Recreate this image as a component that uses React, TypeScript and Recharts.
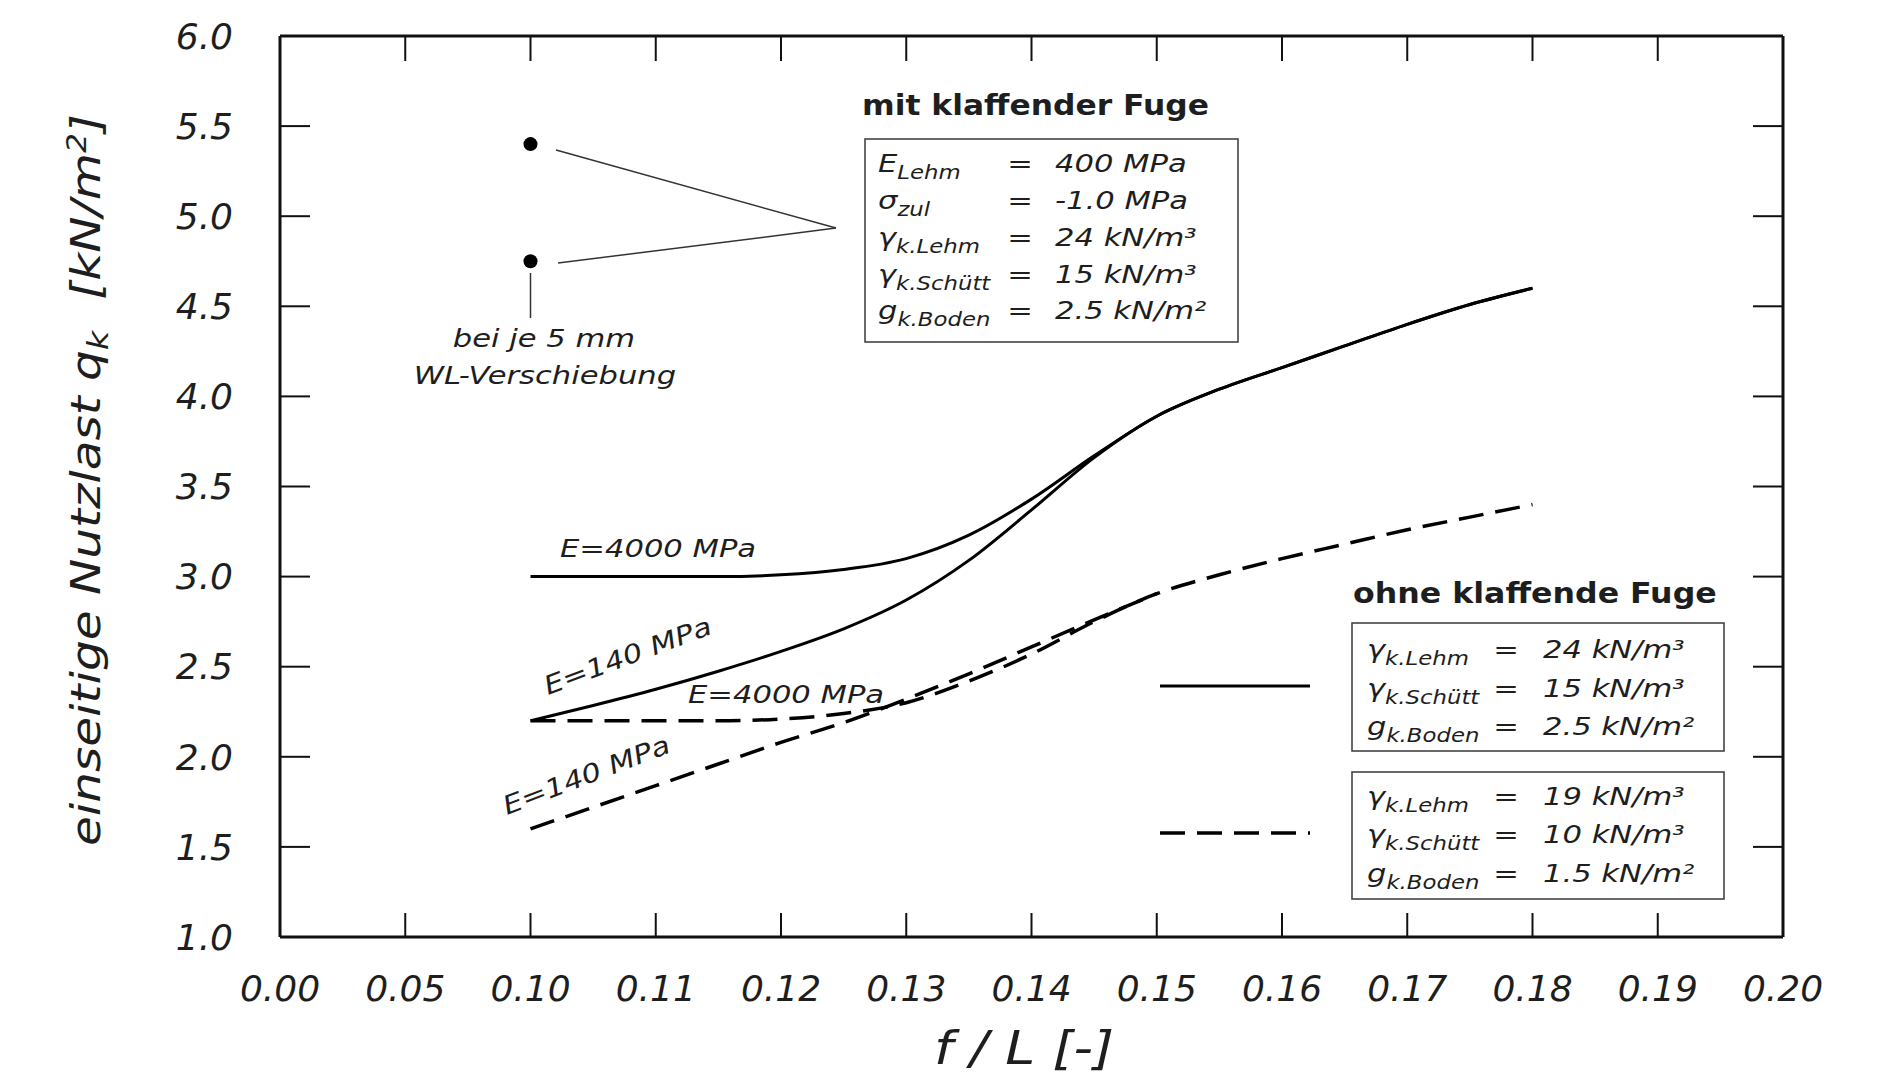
import React from "react";
import { ComposedChart, Line, Scatter, XAxis, YAxis, ReferenceLine } from "recharts";

// axis: equally spaced ticks, the labels are not linear
const xTickLabels = ["0.00", "0.05", "0.10", "0.11", "0.12", "0.13", "0.14", "0.15", "0.16", "0.17", "0.18", "0.19", "0.20"];
const yTicks = [1, 1.5, 2, 2.5, 3, 3.5, 4, 4.5, 5, 5.5, 6];

// f/L values of the curves
const fL = [0.1, 0.105, 0.11, 0.115, 0.12, 0.125, 0.13, 0.135, 0.14, 0.145, 0.15, 0.155, 0.16, 0.165, 0.17, 0.175, 0.18];

// mit klaffender Fuge (solid)
const mitE4000 = [3.0, 3.0, 3.0, 3.0, 3.01, 3.04, 3.1, 3.23, 3.43, 3.67, 3.89, 4.04, 4.16, 4.28, 4.4, 4.51, 4.6];
const mitE140 = [2.2, 2.285, 2.375, 2.475, 2.585, 2.71, 2.87, 3.09, 3.37, 3.66, 3.89, 4.04, 4.16, 4.28, 4.4, 4.51, 4.6];

// ohne klaffende Fuge (dashed); E=140 runs into E=4000 at f/L = 0.15
const ohneE4000 = [2.2, 2.2, 2.2, 2.2, 2.21, 2.24, 2.3, 2.42, 2.57, 2.75, 2.905, 3.01, 3.1, 3.18, 3.26, 3.33, 3.4];
const ohneE140 = [1.6, 1.72, 1.84, 1.96, 2.08, 2.19, 2.32, 2.46, 2.61, 2.76, 2.905];

// WL-Verschiebung points at f/L = 0.10
const markerF = [0.1, 0.1];
const markerQ = [5.4, 4.75];

// f/L -> position on the tick index axis (0.10 sits on tick 2, 0.01 per tick)
const pos = (f: number) => 2 + (f - 0.1) * 100;

const toPoints = (vals: number[]) => vals.map((q, i) => ({ x: pos(fL[i]), q }));
const markers = markerF.map((f, i) => ({ x: pos(f), q: markerQ[i] }));
const tickIdx = xTickLabels.map((_, i) => i);

const FONT = "'DejaVu Sans', Verdana, sans-serif";
const NARROW = "'Liberation Sans Narrow', 'DejaVu Sans Condensed', 'Liberation Sans', sans-serif";
const INK = "#1e1e1e";
const DASH = "25 12";

const tickStyle = { fontSize: 36, fontStyle: "italic", fill: INK, fontFamily: FONT };
const axisLine = { stroke: "#111", strokeWidth: 3 };
const tickLine = { stroke: "#111", strokeWidth: 2 };

function T(props: {
  x: number;
  y: number;
  sx?: number;
  rot?: number;
  size?: number;
  anchor?: "start" | "middle" | "end";
  bold?: boolean;
  italic?: boolean;
  children: React.ReactNode;
}) {
  const { x, y, sx = 1.2, rot = 0, size = 25.5, anchor = "start", bold, italic = true, children } = props;
  return (
    <g transform={`translate(${x},${y}) rotate(${rot}) scale(${sx},1)`}>
      <text
        x={0}
        y={0}
        fontSize={size}
        textAnchor={anchor}
        fontFamily={FONT}
        fontStyle={italic ? "italic" : "normal"}
        fontWeight={bold ? "bold" : "normal"}
        fill={INK}
      >
        {children}
      </text>
    </g>
  );
}

function Sym({ x, y, main, sub }: { x: number; y: number; main: string; sub: string }) {
  return (
    <T x={x} y={y}>
      {main}
      <tspan dy={7} fontSize={19}>
        {sub}
      </tspan>
    </T>
  );
}

function Row({ y, sx, ex, vx, main, sub, val }: { y: number; sx: number; ex: number; vx: number; main: string; sub: string; val: string }) {
  return (
    <g>
      <Sym x={sx} y={y} main={main} sub={sub} />
      <T x={ex} y={y} anchor="middle" italic={false}>
        =
      </T>
      <T x={vx} y={y}>
        {val}
      </T>
    </g>
  );
}

function Overlay() {
  return (
    <svg width={1881} height={1079} style={{ position: "absolute", left: 0, top: 0, pointerEvents: "none" }}>
      {/* axis titles */}
      <text
        transform="translate(100,480) rotate(-90)"
        textAnchor="middle"
        fontSize={40}
        fontStyle="italic"
        fontFamily={NARROW}
        fill={INK}
        textLength={732}
        lengthAdjust="spacingAndGlyphs"
      >
        einseitige Nutzlast q<tspan dy={8} fontSize={28}>k</tspan>
        <tspan dy={-8}>{"\u00a0\u00a0[kN/m"}</tspan>
        <tspan dy={-14} fontSize={26}>2</tspan>
        <tspan dy={14}>]</tspan>
      </text>
      <text
        x={934}
        y={1064}
        fontSize={46}
        fontStyle="italic"
        fontFamily={NARROW}
        fill={INK}
        textLength={180}
        lengthAdjust="spacingAndGlyphs"
      >
        f / L [-]
      </text>

      {/* curve labels */}
      <T x={560} y={557}>E=4000 MPa</T>
      <T x={548} y={695} rot={-20.5}>E=140 MPa</T>
      <T x={688} y={703}>E=4000 MPa</T>
      <T x={507} y={815} rot={-21}>E=140 MPa</T>

      {/* marker note */}
      <T x={544} y={347} anchor="middle">bei je 5 mm</T>
      <T x={545} y={384} anchor="middle">WL-Verschiebung</T>

      {/* mit klaffender Fuge */}
      <T x={862} y={115} bold italic={false} size={28} sx={1.12}>mit klaffender Fuge</T>
      <rect x={865} y={139} width={373} height={203} fill="none" stroke="#444" strokeWidth={1.6} />
      <Row y={172} sx={878} ex={1020} vx={1055} main="E" sub="Lehm" val="400 MPa" />
      <Row y={209} sx={878} ex={1020} vx={1055} main="σ" sub="zul" val="-1.0 MPa" />
      <Row y={246} sx={878} ex={1020} vx={1055} main="γ" sub="k.Lehm" val="24 kN/m³" />
      <Row y={283} sx={878} ex={1020} vx={1055} main="γ" sub="k.Schütt" val="15 kN/m³" />
      <Row y={319} sx={878} ex={1020} vx={1055} main="g" sub="k.Boden" val="2.5 kN/m²" />

      {/* ohne klaffende Fuge */}
      <T x={1353} y={603} bold italic={false} size={28} sx={1.13}>ohne klaffende Fuge</T>
      <rect x={1352} y={623} width={372} height={128} fill="none" stroke="#444" strokeWidth={1.6} />
      <Row y={658} sx={1367} ex={1506} vx={1543} main="γ" sub="k.Lehm" val="24 kN/m³" />
      <Row y={697} sx={1367} ex={1506} vx={1543} main="γ" sub="k.Schütt" val="15 kN/m³" />
      <Row y={735} sx={1367} ex={1506} vx={1543} main="g" sub="k.Boden" val="2.5 kN/m²" />
      <rect x={1352} y={772} width={372} height={127} fill="none" stroke="#444" strokeWidth={1.6} />
      <Row y={805} sx={1367} ex={1506} vx={1543} main="γ" sub="k.Lehm" val="19 kN/m³" />
      <Row y={843} sx={1367} ex={1506} vx={1543} main="γ" sub="k.Schütt" val="10 kN/m³" />
      <Row y={882} sx={1367} ex={1506} vx={1543} main="g" sub="k.Boden" val="1.5 kN/m²" />

      {/* legend samples */}
      <line x1={1160} x2={1310} y1={686} y2={686} stroke="#000" strokeWidth={3} />
      <line x1={1160} x2={1310} y1={833} y2={833} stroke="#000" strokeWidth={3.5} strokeDasharray={DASH} />
    </svg>
  );
}

export default function App() {
  return (
    <div style={{ position: "absolute", left: 0, top: 0, width: 1881, height: 1079, background: "#fff" }}>
      <ComposedChart width={1881} height={1079} margin={{ top: 35, right: 97, bottom: 82, left: 180 }}>
        <XAxis
          xAxisId="b"
          type="number"
          dataKey="x"
          domain={[0, 12]}
          ticks={tickIdx}
          interval={0}
          tickFormatter={(v: number) => xTickLabels[v]}
          height={60}
          tickSize={-24}
          tickMargin={62}
          axisLine={axisLine}
          tickLine={tickLine}
          tick={tickStyle}
          allowDataOverflow
        />
        <XAxis
          xAxisId="t"
          orientation="top"
          type="number"
          dataKey="x"
          domain={[0, 12]}
          ticks={tickIdx}
          interval={0}
          tickFormatter={() => ""}
          height={1}
          tickSize={-25}
          axisLine={axisLine}
          tickLine={tickLine}
          allowDataOverflow
        />
        <YAxis
          yAxisId="l"
          type="number"
          dataKey="q"
          domain={[1, 6]}
          ticks={yTicks}
          interval={0}
          tickFormatter={(v: number) => v.toFixed(1)}
          width={100}
          tickSize={-30}
          tickMargin={77}
          axisLine={axisLine}
          tickLine={tickLine}
          tick={tickStyle}
          allowDataOverflow
        />
        <YAxis
          yAxisId="r"
          orientation="right"
          type="number"
          dataKey="q"
          domain={[1, 6]}
          ticks={yTicks}
          interval={0}
          tickFormatter={() => ""}
          width={1}
          tickSize={-30}
          axisLine={axisLine}
          tickLine={tickLine}
          allowDataOverflow
        />

        <ReferenceLine xAxisId="b" yAxisId="l" segment={[{ x: 2.204, y: 5.367 }, { x: 4.439, y: 4.934 }]} stroke="#333" strokeWidth={1.5} />
        <ReferenceLine xAxisId="b" yAxisId="l" segment={[{ x: 2.22, y: 4.74 }, { x: 4.439, y: 4.934 }]} stroke="#333" strokeWidth={1.5} />
        <ReferenceLine xAxisId="b" yAxisId="l" segment={[{ x: 2.0, y: 4.685 }, { x: 2.0, y: 4.435 }]} stroke="#333" strokeWidth={1.5} />

        <Line xAxisId="b" yAxisId="l" data={toPoints(ohneE4000)} dataKey="q" type="monotone" stroke="#000" strokeWidth={3.5} strokeDasharray={DASH} dot={false} isAnimationActive={false} />
        <Line xAxisId="b" yAxisId="l" data={toPoints(ohneE140)} dataKey="q" type="monotone" stroke="#000" strokeWidth={3.5} strokeDasharray={DASH} dot={false} isAnimationActive={false} />
        <Line xAxisId="b" yAxisId="l" data={toPoints(mitE4000)} dataKey="q" type="monotone" stroke="#000" strokeWidth={3} dot={false} isAnimationActive={false} />
        <Line xAxisId="b" yAxisId="l" data={toPoints(mitE140)} dataKey="q" type="monotone" stroke="#000" strokeWidth={3} dot={false} isAnimationActive={false} />
        <Scatter
          xAxisId="b"
          yAxisId="l"
          data={markers}
          dataKey="q"
          isAnimationActive={false}
          shape={(p: any) => <circle cx={p.cx} cy={p.cy} r={7} fill="#000" />}
        />
      </ComposedChart>
      <Overlay />
    </div>
  );
}
